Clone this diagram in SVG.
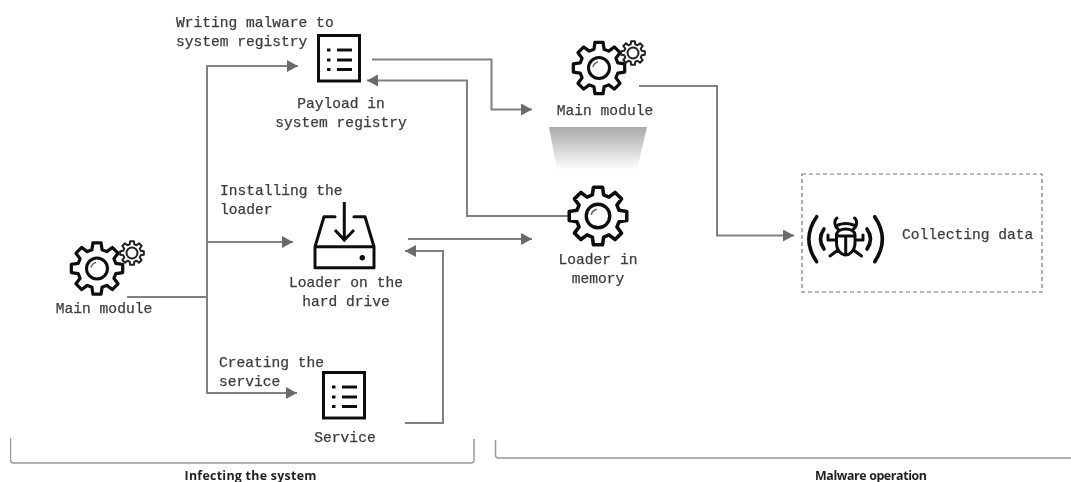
<svg xmlns="http://www.w3.org/2000/svg" width="1071" height="482" viewBox="0 0 1071 482">
<style>
.c{fill:none;stroke:#808080;stroke-width:2}
.a{marker-end:url(#ah)}
.t{font-family:"Liberation Mono",monospace;font-size:14.6px;fill:#3c3c3c;stroke:#3c3c3c;stroke-width:.25}
.m{text-anchor:middle}
.b{font-family:"Open Sans","Noto Sans",sans-serif;font-size:12.400px;font-weight:700;fill:#222;text-anchor:middle}
.i{fill:none;stroke:#111;stroke-width:3}
.l{stroke-linecap:round;stroke-linejoin:round}
.s{fill:none;stroke:#111;stroke-width:3.200;stroke-linejoin:round}
</style>
<defs>
<filter id="blur" x="0" y="0" width="1" height="1"><feGaussianBlur stdDeviation="0.5"/></filter>
<marker id="ah" markerUnits="userSpaceOnUse" markerWidth="12" markerHeight="12" refX="11" refY="6" orient="auto"><path d="M0,0L11,6L0,12Z" fill="#6b6b6b"/></marker>
<linearGradient id="g" x1="0" y1="0" x2="0" y2="1"><stop offset="0" stop-color="#aaa"/><stop offset="1" stop-color="#fff"/></linearGradient>
<path id="gp" d="M-5.05,-18.84L-4.07,-25.68 4.07,-25.68 5.05,-18.84 9.75,-16.89 15.28,-21.03 21.03,-15.28 16.89,-9.75 18.84,-5.05 25.68,-4.07 25.68,4.07 18.84,5.05 16.89,9.75 21.03,15.28 15.28,21.03 9.75,16.89 5.05,18.84 4.07,25.68 -4.07,25.68 -5.05,18.84 -9.75,16.89 -15.28,21.03 -21.03,15.28 -16.89,9.75 -18.84,5.05 -25.68,4.07 -25.68,-4.07 -18.84,-5.05 -16.89,-9.75 -21.03,-15.28 -15.28,-21.03 -9.75,-16.89Z"/>
<g id="gear"><use href="#gp" class="s"/><circle r="10.500" class="i"/><path d="M-6,-1A6.500,6.500 0 0 1 -1,-6" fill="none" stroke="#666" stroke-width="1.500"/></g>
<g id="small"><use href="#gp" transform="scale(.46)" fill="none" stroke="#222" stroke-width="4.400" stroke-linejoin="round"/><circle r="5.500" fill="none" stroke="#222" stroke-width="2"/></g>
<g id="doc"><rect x="1.500" y="1.500" width="41" height="45.500" class="i"/><path d="M10,16h3.500M20,16h15M10,26h3.500M20,26h15M10,35.500h3.500M20,35.500h15" fill="none" stroke="#111" stroke-width="3"/></g>
</defs>
<rect width="1071" height="482" fill="#fff"/>
<g filter="url(#blur)">
<g id="connectors">
<path class="c" d="M127,297H207"/>
<path class="c a" d="M207,318V66H298"/>
<path class="c a" d="M207,242H293"/>
<path class="c a" d="M207,300V393H297"/>
<path class="c a" d="M372,59.500H491.500V109.500H532"/>
<path class="c a" d="M568,216H467V80.500H367"/>
<path class="c a" d="M408,239H532"/>
<path class="c a" d="M405,423H443V251H405"/>
<path class="c a" d="M639,86H717V235.500H794"/>
</g>
<g id="main-module-1"><use href="#gear" transform="translate(97,268.500)"/><use href="#small" transform="translate(132,253)"/><text class="t m" x="104" y="313">Main module</text></g>
<g id="payload"><use href="#doc" transform="translate(317,34)"/><text class="t" x="176" y="27">Writing malware to</text><text class="t" x="176" y="46">system registry</text><text class="t m" x="341" y="108">Payload in</text><text class="t m" x="341" y="127">system registry</text></g>
<g id="loader-disk"><path class="i l" d="M335,216.700H324L315,246.700V267.700H374V246.700L365,216.700H354M315,246.700H374"/><path class="i" d="M344.300,202V239M335,230L344.300,240L354,230"/><circle cx="362.300" cy="257.700" r="2.700" fill="#111"/><text class="t" x="220" y="195">Installing the</text><text class="t" x="220" y="214">loader</text><text class="t m" x="346" y="287">Loader on the</text><text class="t m" x="346" y="306">hard drive</text></g>
<g id="service"><use href="#doc" transform="translate(322,371)"/><text class="t" x="219" y="367">Creating the</text><text class="t" x="219" y="386">service</text><text class="t m" x="345" y="442">Service</text></g>
<g id="main-module-2"><use href="#gear" transform="translate(599,68)"/><use href="#small" transform="translate(633,53)"/><text class="t m" x="605" y="115">Main module</text></g>
<path id="projection" d="M549,127H647L637,170H557Z" fill="url(#g)"/>
<g id="loader-memory"><use href="#gear" transform="translate(598,216) scale(1.120)"/><text class="t m" x="598" y="264">Loader in</text><text class="t m" x="598" y="283">memory</text></g>
<g id="collecting"><rect x="802" y="174" width="240" height="118" fill="none" stroke="#777" stroke-width="1.200" stroke-dasharray="4 3"/>
<path class="l" fill="none" stroke="#111" stroke-width="3.600" d="M816.700,216.700Q801,239 816.700,261.700M874.700,216.700Q890,239 874.700,261.700M824,229Q817,239 824,249M867,229Q874,239 867,249"/>
<path d="M836.500,235C836.500,227 855,227 855,235V243C855,251 849,255 845.700,255C842,255 836.500,251 836.500,243ZM836.500,236H855M845.700,236V255M838,229C834,226 834,220 837,218M853.500,229C857.500,226 857.500,220 854.500,218M838,225Q845.700,222 853.500,225M836.500,240H828V235M855,240H863V235M838,250L830,256M853.500,250L861.500,256" fill="none" stroke="#111" stroke-width="3" stroke-linecap="round" stroke-linejoin="round"/>
<text class="t" x="902" y="239">Collecting data</text></g>
<g id="phase-1"><path d="M10.500,438V460Q10.500,463 13.500,463H471Q474,463 474,460V439" fill="none" stroke="#999" stroke-width="1.500"/><text class="b" x="250.500" y="480" textLength="132">Infecting the system</text></g>
<g id="phase-2"><path d="M495.500,440V455Q495.500,458 498.500,458H1071" fill="none" stroke="#999" stroke-width="1.500"/><text class="b" x="871" y="480" textLength="112">Malware operation</text></g>
</g>
</svg>
